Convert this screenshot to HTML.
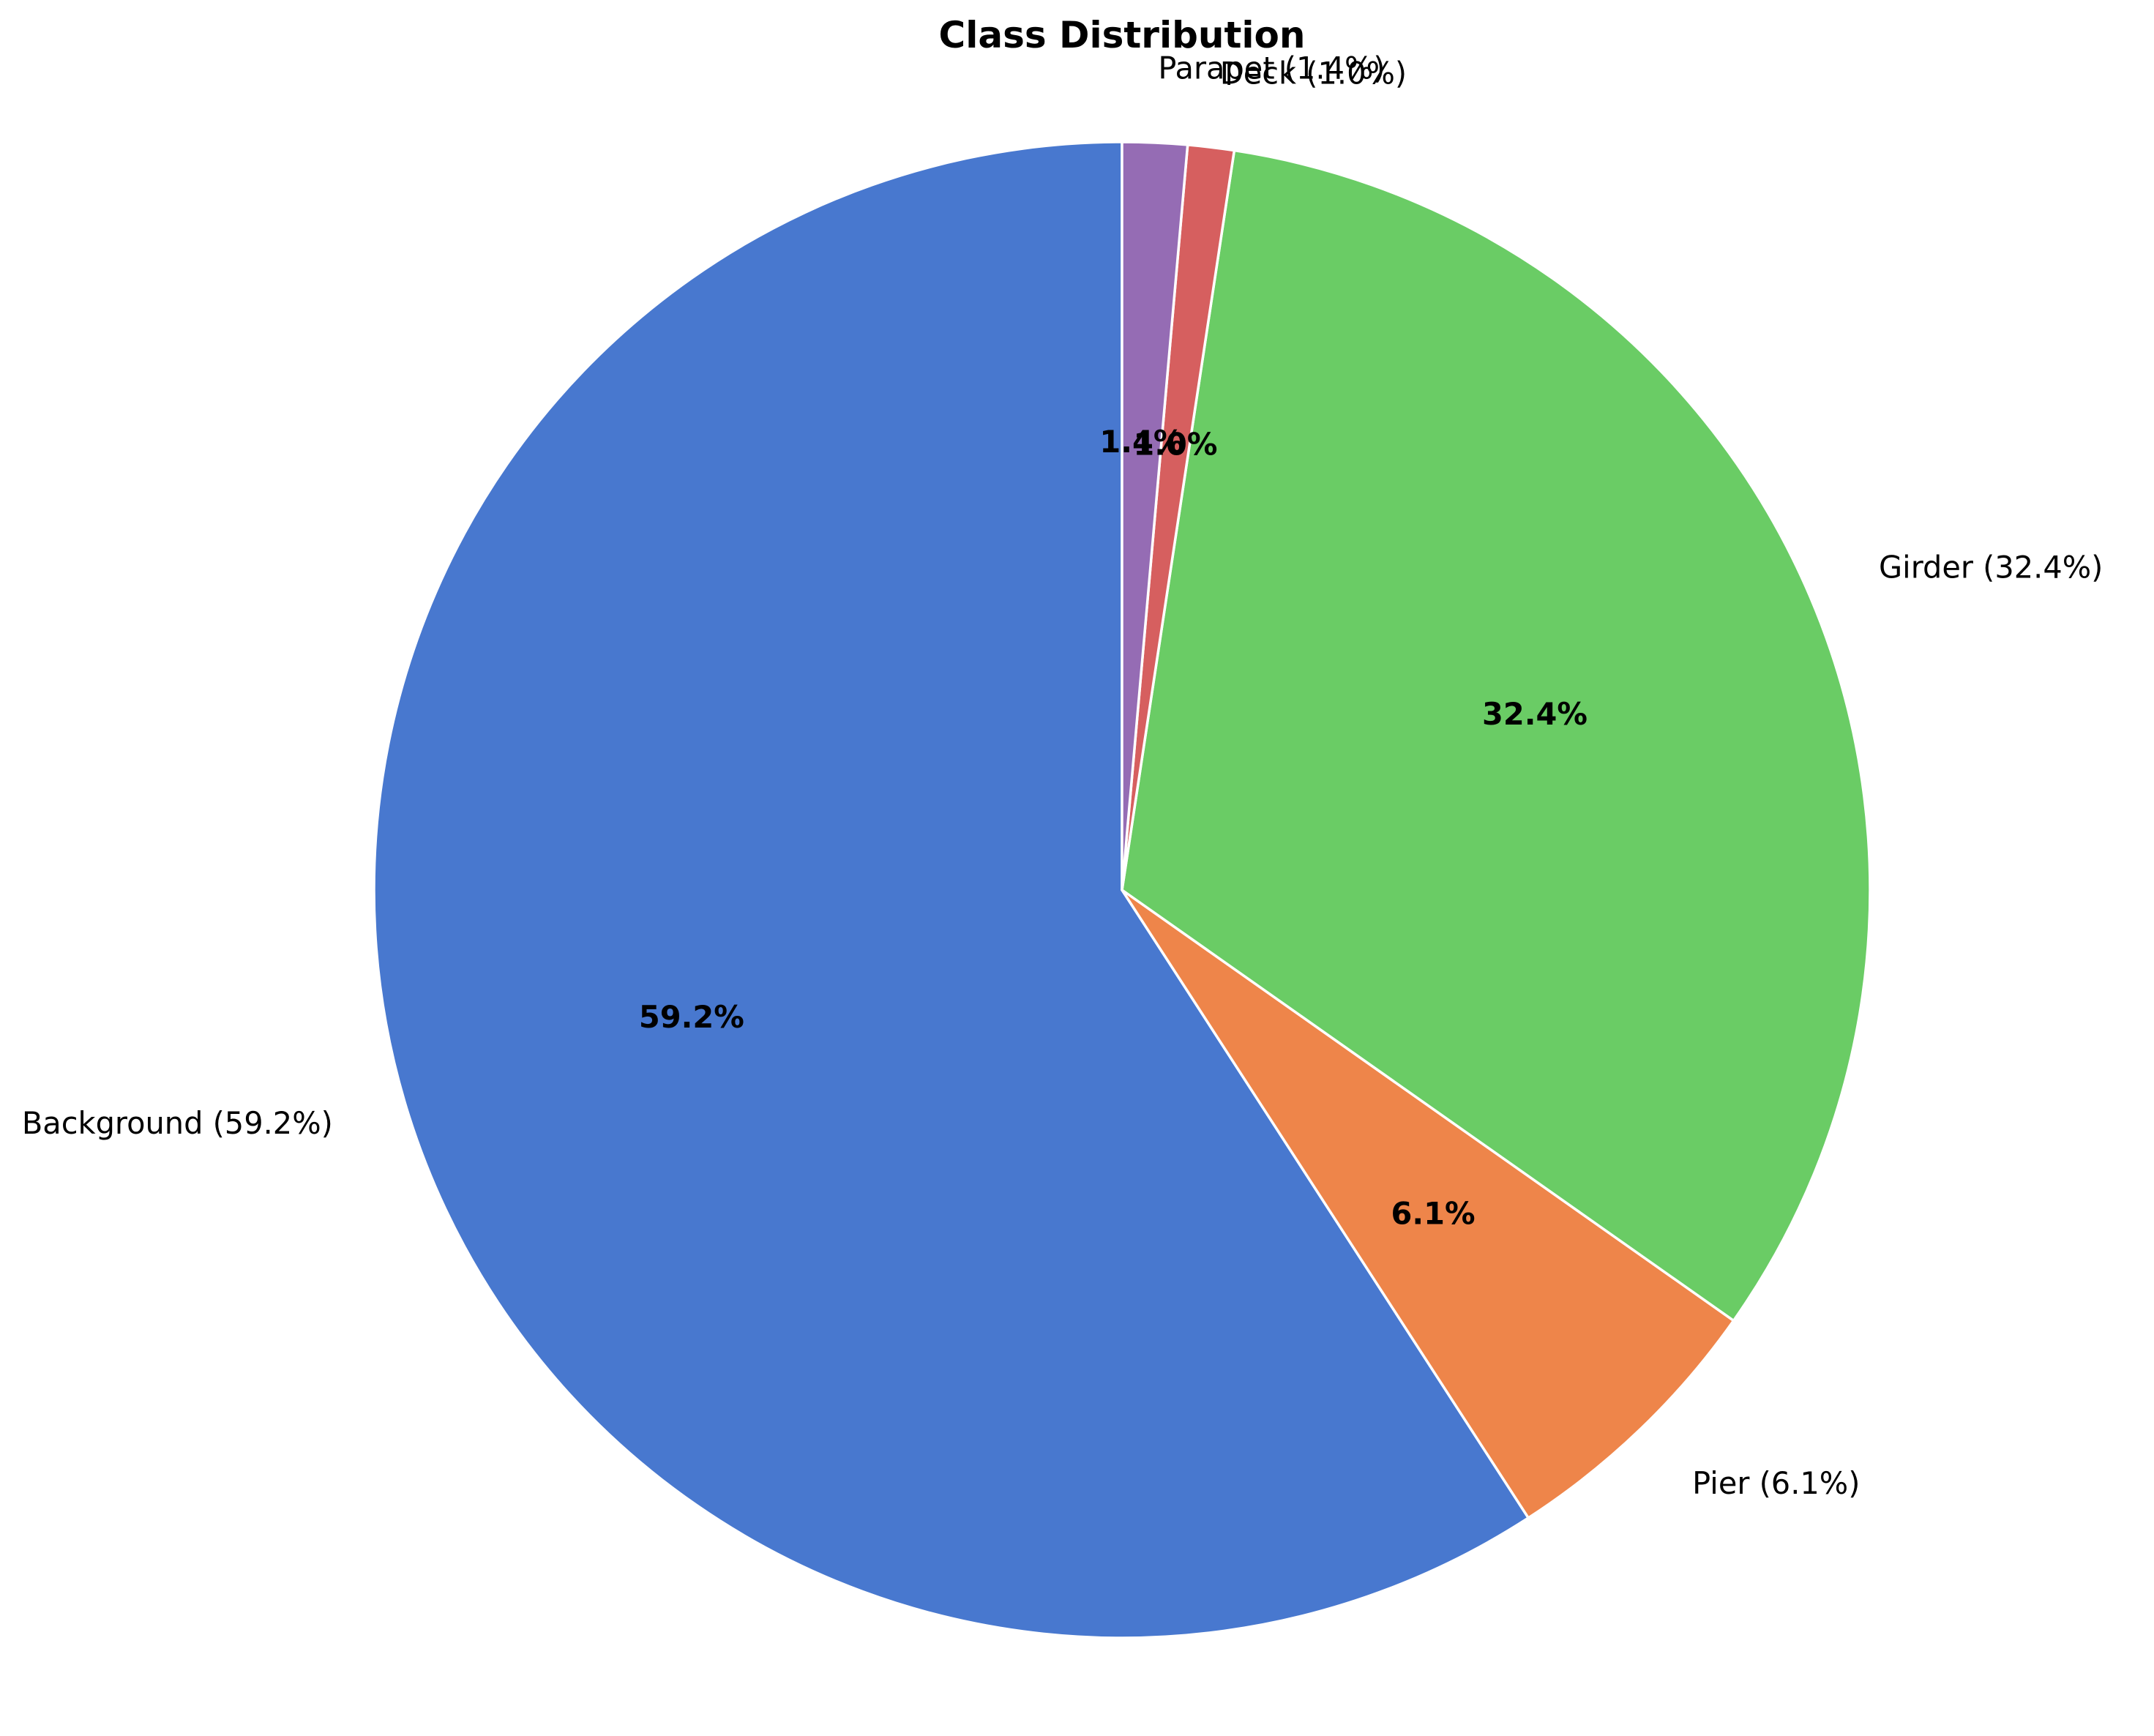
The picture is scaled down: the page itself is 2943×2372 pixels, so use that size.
<!DOCTYPE html>
<html><head><meta charset="utf-8"><style>
html,body{margin:0;padding:0;background:#fff}
svg{display:block;font-family:"DejaVu Sans","Liberation Sans",sans-serif}
</style></head><body>
<svg id="chart" width="2943" height="2372" viewBox="0 0 2943 2372" xmlns="http://www.w3.org/2000/svg">
<rect width="2943" height="2372" fill="#fff"/>
<text x="1533" y="65" text-anchor="middle" font-size="50" font-weight="bold">Class Distribution</text>
<g id="slices"></g>
<g id="labels"></g>
</svg>
<script>
const categories = ["Background", "Pier", "Girder", "Deck", "Parapet"];
const values = [59.2, 6.1, 32.4, 1.0, 1.4];
const colors = ["#4878cf", "#ee854a", "#6acc65", "#d65f5f", "#956cb4"];
const cx = 1533, cy = 1216, R = 1022;
const NS = "http://www.w3.org/2000/svg";
const total = values.reduce((a, b) => a + b, 0);
const sg = document.getElementById("slices"), lg = document.getElementById("labels");
function pt(a, r) { const t = a * Math.PI / 180; return [cx + r * Math.cos(t), cy - r * Math.sin(t)]; }
let ang = 90;
values.forEach((v, i) => {
  const sweep = v / total * 360, a0 = ang, a1 = ang + sweep;
  const p0 = pt(a0, R), p1 = pt(a1, R);
  const path = document.createElementNS(NS, "path");
  path.setAttribute("d", `M${cx},${cy} L${p0[0]},${p0[1]} A${R},${R} 0 ${sweep > 180 ? 1 : 0} 0 ${p1[0]},${p1[1]} Z`);
  path.setAttribute("fill", colors[i]);
  path.setAttribute("stroke", "#fff");
  path.setAttribute("stroke-width", "3.5");
  path.setAttribute("stroke-linejoin", "round");
  
  
  sg.appendChild(path);
  const mid = (a0 + a1) / 2;
  const lp = pt(mid, R * 1.1);
  const lt = document.createElementNS(NS, "text");
  lt.setAttribute("x", lp[0]); lt.setAttribute("y", lp[1]);
  lt.setAttribute("text-anchor", Math.cos(mid * Math.PI / 180) >= 0 ? "start" : "end");
  lt.setAttribute("dominant-baseline", "central");
  lt.setAttribute("font-size", "41.5");
  lt.textContent = categories[i] + " (" + v.toFixed(1) + "%)";
  
  
  lg.appendChild(lt);
  const pp = pt(mid, R * 0.6);
  const pc = document.createElementNS(NS, "text");
  pc.setAttribute("x", pp[0]); pc.setAttribute("y", pp[1]);
  pc.setAttribute("text-anchor", "middle");
  pc.setAttribute("dominant-baseline", "central");
  pc.setAttribute("font-size", "41.5");
  pc.setAttribute("font-weight", "bold");
  pc.textContent = v.toFixed(1) + "%";
  
  
  lg.appendChild(pc);
  ang = a1;
});
</script>
</body></html>
